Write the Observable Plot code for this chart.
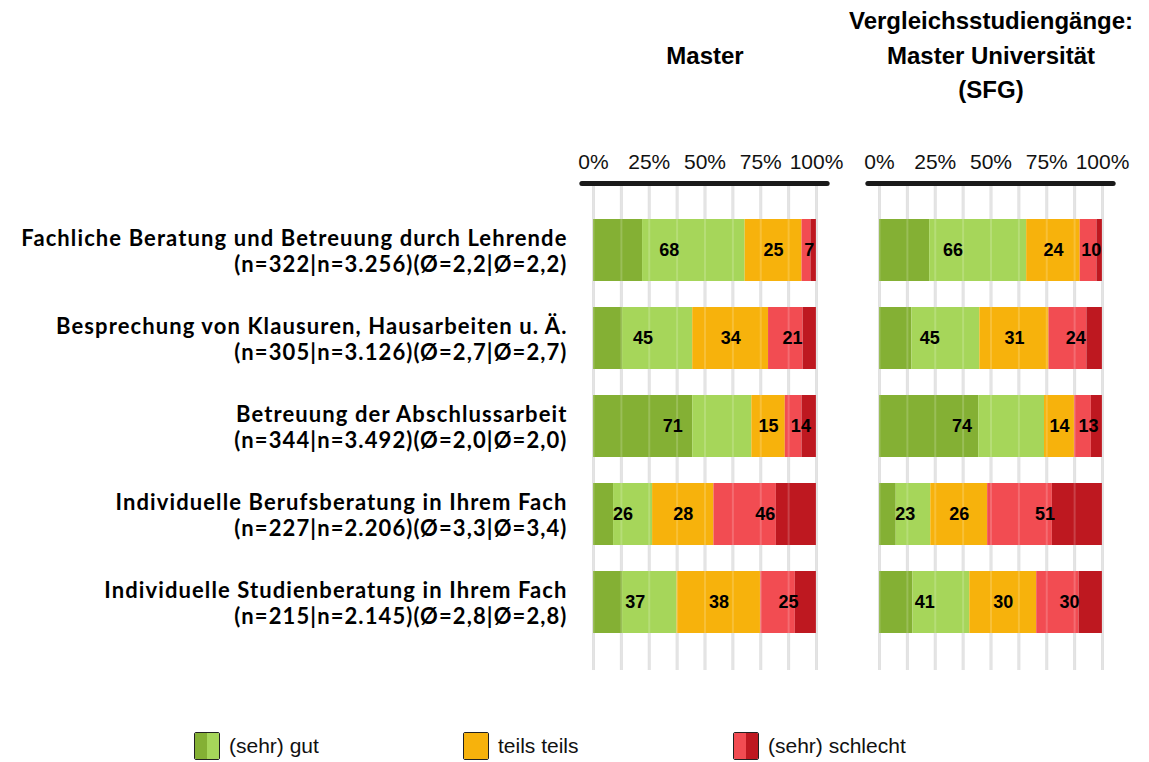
<!DOCTYPE html>
<html>
<head>
<meta charset="utf-8">
<script src="https://cdn.jsdelivr.net/npm/d3@7"></script>
<script src="https://cdn.jsdelivr.net/npm/@observablehq/plot@0.6"></script>
<style>
  html, body { margin: 0; padding: 0; background: #fff; }
  #wrap { position: relative; width: 1149px; height: 762px; overflow: hidden; font-family: "Liberation Sans", Arial, sans-serif; }
  #chart { position: absolute; left: 0; top: 0; }
  .leg { position: absolute; top: 731px; display: flex; align-items: center; height: 30px; font-size: 21px; color: #111; }
  .sw { width: 26px; height: 28px; border: 1px solid #222; border-radius: 2px; display: flex; margin-right: 9px; box-sizing: border-box; overflow: hidden; }
  .sw span { flex: 1; }
</style>
</head>
<body>
<div id="wrap">
  <div id="chart"></div>
  <div class="leg" style="left:194px"><div class="sw"><span style="background:#84B034"></span><span style="background:#A6D65A"></span></div>(sehr) gut</div>
  <div class="leg" style="left:463px"><div class="sw"><span style="background:#F7B20C"></span></div>teils teils</div>
  <div class="leg" style="left:733px"><div class="sw"><span style="background:#F24C52"></span><span style="background:#BE1820"></span></div>(sehr) schlecht</div>
</div>
<script>
// ---------- data ----------
const items = [
  "Fachliche Beratung und Betreuung durch Lehrende",
  "Besprechung von Klausuren, Hausarbeiten u. Ä.",
  "Betreuung der Abschlussarbeit",
  "Individuelle Berufsberatung in Ihrem Fach",
  "Individuelle Studienberatung in Ihrem Fach"
];
const nInfo = [
  "(n=322|n=3.256)(Ø=2,2|Ø=2,2)",
  "(n=305|n=3.126)(Ø=2,7|Ø=2,7)",
  "(n=344|n=3.492)(Ø=2,0|Ø=2,0)",
  "(n=227|n=2.206)(Ø=3,3|Ø=3,4)",
  "(n=215|n=2.145)(Ø=2,8|Ø=2,8)"
];
const panels = ["Master", "Vergleichsstudiengänge:\nMaster Universität\n(SFG)"];
const levels = ["sehr gut", "gut", "teils teils", "schlecht", "sehr schlecht"];
const levelColors = ["#84B034", "#A6D65A", "#F7B20C", "#F24C52", "#BE1820"];
const groups = ["(sehr) gut", "teils teils", "(sehr) schlecht"];

// Master (segment shares, %)
const masterSehrGut      = [22, 13, 44.5, 9, 13];
const masterGut          = [46, 31.5, 26.5, 17.5, 24.5];
const masterTeils        = [25.5, 34, 15, 27.5, 37.5];
const masterSchlecht     = [4, 15.5, 7.5, 28, 15.5];
const masterSehrSchlecht = [2.5, 6, 6.5, 18, 9.5];
// Vergleich (segment shares, %)
const vglSehrGut      = [22.5, 14.5, 44.5, 7.5, 15];
const vglGut          = [43.5, 30.5, 29.5, 15.5, 25.5];
const vglTeils        = [24, 31, 13.5, 25.5, 30];
const vglSchlecht     = [7.5, 17, 7.5, 29, 19];
const vglSehrSchlecht = [2.5, 7, 5, 22.5, 10.5];

// printed labels
const masterGutLabel      = [68, 45, 71, 26, 37];
const masterTeilsLabel    = [25, 34, 15, 28, 38];
const masterSchlechtLabel = [7, 21, 14, 46, 25];
const vglGutLabel      = [66, 45, 74, 23, 41];
const vglTeilsLabel    = [24, 31, 14, 26, 30];
const vglSchlechtLabel = [10, 24, 13, 51, 30];

const xTicks = [0, 25, 50, 75, 100];
const gridTicks = [0, 12.5, 25, 37.5, 50, 62.5, 75, 87.5, 100];

// ---------- tables ----------
const categories = items.map((d, i) => d + "\n" + nInfo[i]);
const segSets = [
  [masterSehrGut, masterGut, masterTeils, masterSchlecht, masterSehrSchlecht],
  [vglSehrGut, vglGut, vglTeils, vglSchlecht, vglSehrSchlecht]
];
const labelSets = [
  [masterGutLabel, masterTeilsLabel, masterSchlechtLabel],
  [vglGutLabel, vglTeilsLabel, vglSchlechtLabel]
];
const segs = [];
const labs = [];
panels.forEach((p, pi) => {
  categories.forEach((c, ci) => {
    const s = segSets[pi].map(a => a[ci]);
    levels.forEach((lv, li) => segs.push({panel: p, cat: c, level: lv, value: s[li]}));
    const gv = [s[0] + s[1], s[2], s[3] + s[4]];
    groups.forEach((g, gi) => labs.push({panel: p, cat: c, group: g, value: gv[gi], label: String(labelSets[pi][gi][ci])}));
  });
});

const chart = Plot.plot({
  width: 1149,
  height: 720,
  marginTop: 183,
  marginBottom: 50,
  marginLeft: 592,
  marginRight: 46,
  style: {fontFamily: "'Liberation Sans', Arial, sans-serif", background: "#fff", overflow: "visible", color: "#111"},
  fx: {domain: panels, paddingInner: 0.2195, paddingOuter: 0, axis: null, label: null},
  x: {domain: [0, 100], axis: null},
  y: {domain: categories, paddingInner: 0.295, paddingOuter: 0.409, label: null},
  color: {domain: levels, range: levelColors},
  marks: [
    Plot.ruleX(gridTicks, {stroke: "#dedede", strokeWidth: 3}),
    Plot.barX(segs, Plot.stackX({x: "value", y: "cat", fx: "panel", fill: "level", order: levels})),
    Plot.ruleX(gridTicks, {stroke: "#ffffff", strokeOpacity: 0.18, strokeWidth: 2}),
    Plot.textX(labs, Plot.stackX({x: "value", y: "cat", fx: "panel", z: "group", order: groups, text: "label",
      fontSize: 18, fontWeight: "bold", fill: "#000", fontFamily: "'Liberation Sans', Arial, sans-serif"})),
    Plot.ruleY([categories[0]], {y: d => d, x1: -5, x2: 105, dy: -67, stroke: "#1a1a1a", strokeWidth: 5, strokeLinecap: "round"}),
    Plot.axisX({anchor: "top", ticks: xTicks, tickFormat: d => d + "%", tickSize: 0, tickPadding: 15, fontSize: 21,
      fill: "#111", label: null, fontFamily: "'Liberation Sans', Arial, sans-serif"}),
    Plot.axisY({anchor: "left", tickSize: 0, tickPadding: 26, fontSize: 22, fontWeight: "bold",
      fontFamily: "Lato, 'Liberation Sans', sans-serif", lineHeight: 1.19, fill: "#000", label: null}),
    Plot.text(panels, {fx: d => d, text: d => d, frameAnchor: "top", dy: -131, lineAnchor: "middle",
      lineHeight: 1.44, fontSize: 24, fontWeight: "bold", fill: "#000", fontFamily: "'Liberation Sans', Arial, sans-serif"})
  ]
});
d3.select(chart).selectAll('g[aria-label="y-axis tick label"] text').style("letter-spacing", "1.1px");
document.getElementById("chart").appendChild(chart);
</script>
</body>
</html>
